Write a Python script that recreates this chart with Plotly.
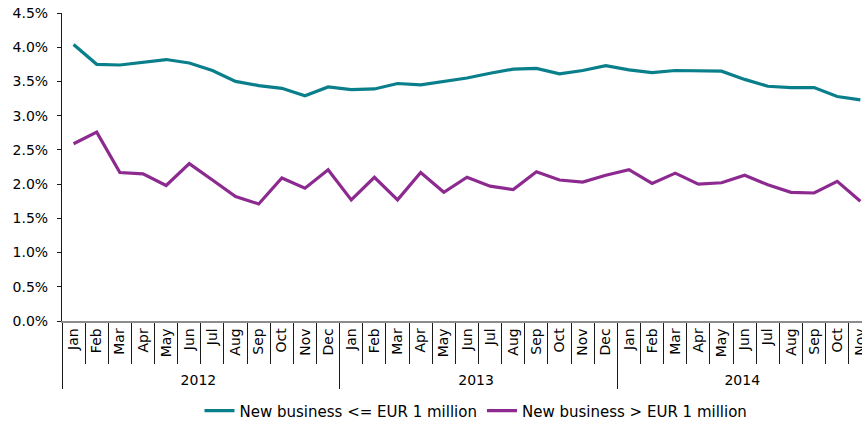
import plotly.graph_objects as go

# Monthly periods, Jan 2012 - Nov 2014
years = ["2012"] * 12 + ["2013"] * 12 + ["2014"] * 11
months = (["Jan", "Feb", "Mar", "Apr", "May", "Jun", "Jul", "Aug", "Sep", "Oct", "Nov", "Dec"] * 3)[:35]

# Interest rates on new business (%)
small_loans = [4.04, 3.75, 3.74, 3.78, 3.82, 3.77, 3.66, 3.50, 3.44, 3.40, 3.29, 3.42,
               3.38, 3.39, 3.47, 3.45, 3.50, 3.55, 3.62, 3.68, 3.69, 3.61, 3.66, 3.73,
               3.67, 3.63, 3.66, 3.65, 3.65, 3.53, 3.43, 3.41, 3.41, 3.28, 3.23]
large_loans = [2.59, 2.76, 2.17, 2.15, 1.98, 2.30, 2.06, 1.82, 1.71, 2.09, 1.94, 2.21,
               1.77, 2.10, 1.77, 2.17, 1.88, 2.10, 1.97, 1.92, 2.18, 2.06, 2.03, 2.13,
               2.21, 2.01, 2.16, 2.00, 2.02, 2.13, 1.99, 1.88, 1.87, 2.04, 1.75]

series_names = ["New business <= EUR 1 million", "New business > EUR 1 million"]
colors = ["#0a7f8c", "#8c2a8f"]

fig = go.Figure()
for name, vals, col in zip(series_names, [small_loans, large_loans], colors):
    fig.add_trace(go.Scatter(
        x=[years, months], y=vals, name=name, mode="lines",
        line=dict(color=col, width=3.2),
        cliponaxis=False,
    ))

font = dict(family="DejaVu Sans, Liberation Sans, sans-serif", size=14, color="#000000")

fig.update_layout(
    width=862, height=421,
    margin=dict(l=62, r=0, t=13, b=100, autoexpand=False),
    paper_bgcolor="white", plot_bgcolor="white",
    font=font,
    showlegend=True,
    legend=dict(orientation="h", x=0.5175, xanchor="center",
                y=-0.292, yanchor="middle",
                font=dict(size=15), itemwidth=30, tracegroupgap=0),
    xaxis=dict(
        type="multicategory",
        range=[-0.5, 34.07],
        showline=True, linecolor="#8c8c8c", linewidth=1.5,
        ticks="outside", tickson="boundaries", ticklen=41,
        tickcolor="#1a1a1a", tickwidth=1,
        tickangle=-90,
        showdividers=True, dividercolor="#1a1a1a", dividerwidth=1,
        showgrid=False, zeroline=False,
        tickfont=dict(size=14),
    ),
    yaxis=dict(
        range=[0, 4.5], dtick=0.5, tickformat=".1f", ticksuffix="%",
        showline=True, linecolor="#1a1a1a", linewidth=1,
        ticks="outside", ticklen=4, tickcolor="#1a1a1a",
        ticklabelstandoff=6,
        showgrid=False, zeroline=False,
        tickfont=dict(size=14),
    ),
)

fig.write_html("out.html")
